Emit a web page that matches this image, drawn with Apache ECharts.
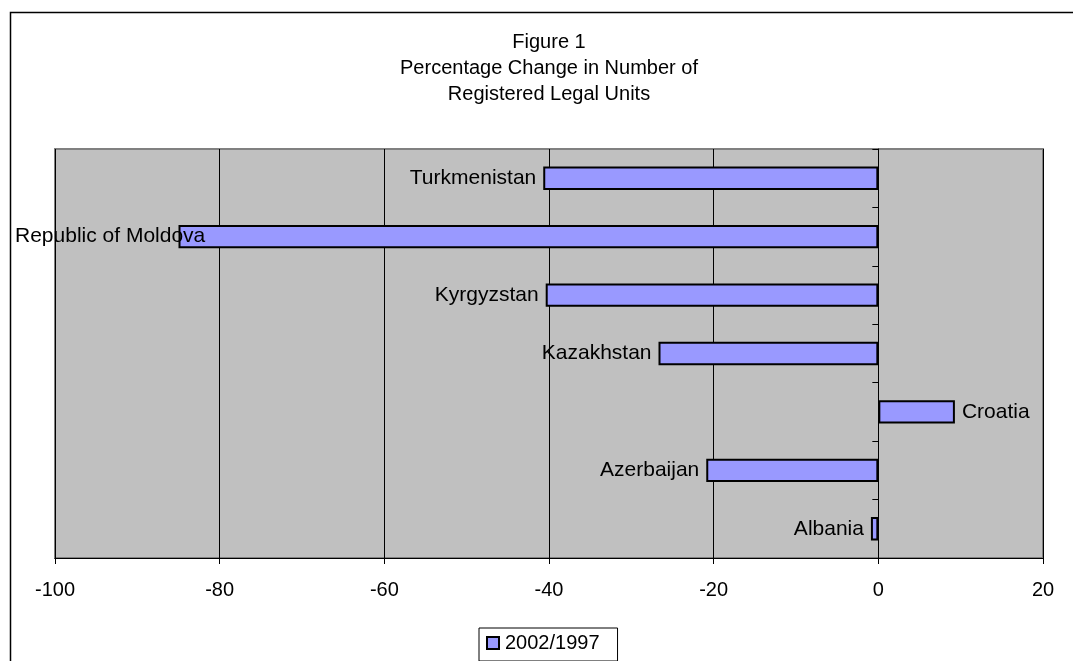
<!DOCTYPE html>
<html>
<head>
<meta charset="utf-8">
<script src="https://cdn.jsdelivr.net/npm/echarts@6/dist/echarts.min.js"></script>
<style>
html,body{margin:0;padding:0;background:#fff;}
#c{width:1073px;height:661px;}
</style>
</head>
<body>
<div id="c"></div>
<script>
var categories = ['Albania', 'Azerbaijan', 'Croatia', 'Kazakhstan', 'Kyrgyzstan', 'Republic of Moldova', 'Turkmenistan'];
var values = [-0.9, -20.9, 9.3, -26.7, -40.4, -85.0, -40.7];
var seriesName = '2002/1997';
var xTicks = [-100, -80, -60, -40, -20, 0, 20];
var titleLines = ['Figure 1', 'Percentage Change in Number of', 'Registered Legal Units'];

var FONT = "'Liberation Sans', Arial, sans-serif";
var chart = echarts.init(document.getElementById('c'), null, {renderer: 'canvas'});

var data = values.map(function (v) {
  return {value: v, label: {position: v < 0 ? 'left' : 'right'}};
});

chart.setOption({
  animation: false,
  backgroundColor: '#ffffff',
  graphic: [{
    type: 'rect',
    shape: {x: 10.5, y: 12.5, width: 1200, height: 800},
    style: {fill: 'none', stroke: '#000', lineWidth: 1.5},
    silent: true, z: -10
  }],
  title: {
    text: titleLines.join('\n'),
    left: 549, top: 29, textAlign: 'center', padding: 0,
    textStyle: {fontFamily: FONT, fontSize: 20, fontWeight: 'normal', color: '#000', lineHeight: 26}
  },
  legend: {
    data: [seriesName],
    left: 479, top: 628,
    padding: [5, 18, 8, 7],
    itemGap: 0, itemWidth: 12, itemHeight: 12,
    icon: 'rect',
    borderColor: '#000', borderWidth: 1,
    backgroundColor: '#fff',
    textStyle: {fontFamily: FONT, fontSize: 20, color: '#000', padding: [0, 0, 0, 1]},
    itemStyle: {borderColor: '#000', borderWidth: 2}
  },
  grid: {
    left: 55, right: 30, top: 149, bottom: 103,
    show: true, backgroundColor: '#C0C0C0', borderColor: '#808080', borderWidth: 2
  },
  xAxis: {
    type: 'value', min: xTicks[0], max: xTicks[xTicks.length - 1], interval: 20,
    axisLine: {show: true, lineStyle: {color: '#000', width: 1}},
    axisTick: {show: true, length: 6, lineStyle: {color: '#000'}},
    axisLabel: {fontFamily: FONT, fontSize: 20, color: '#000', margin: 22},
    splitLine: {show: true, lineStyle: {color: '#000', width: 1}}
  },
  yAxis: {
    type: 'category', data: categories,
    axisLine: {show: true, onZero: true, lineStyle: {color: '#000', width: 1}},
    axisTick: {show: true, length: 6, lineStyle: {color: '#000'}},
    axisLabel: {show: false},
    splitLine: {show: false}
  },
  series: [{
    name: seriesName,
    type: 'bar',
    data: data,
    barCategoryGap: '60%',
    itemStyle: {color: '#9999FF', borderColor: '#000', borderWidth: 2},
    label: {
      show: true, formatter: '{b}', distance: 7,
      fontFamily: FONT, fontSize: 21, color: '#000'
    },
    labelLayout: function (p) {
      if (p.labelRect.x < 15) {
        return {dx: 15 - p.labelRect.x};
      }
      return {};
    }
  }]
});
</script>
</body>
</html>
